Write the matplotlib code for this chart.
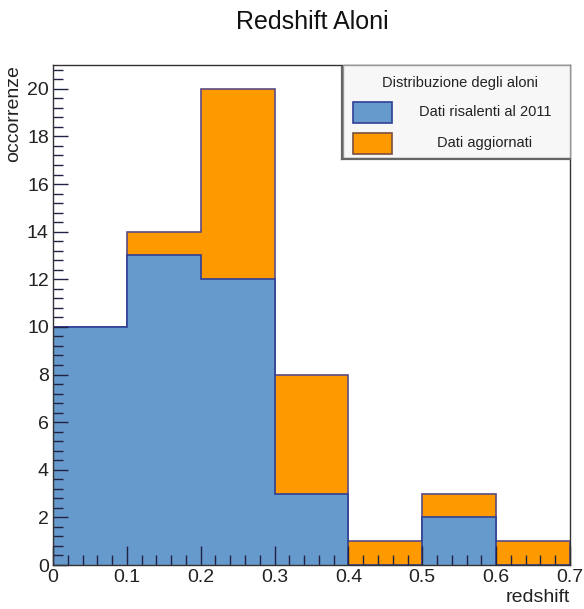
import numpy as np
import matplotlib.pyplot as plt
import matplotlib.ticker as ticker
from matplotlib.patches import Rectangle

plt.rcParams['font.family'] = ['Liberation Sans', 'DejaVu Sans']

edges = [0.0, 0.1, 0.2, 0.3, 0.4, 0.5, 0.6, 0.7]
dati_2011 = [10, 13, 12, 3, 0, 2, 0]
dati_aggiornati = [0, 1, 8, 5, 1, 1, 1]
legend_labels = ['Dati risalenti al 2011', 'Dati aggiornati']

BLUE = '#6699cc'
ORANGE = '#ff9900'
W, H = 584, 609


def px(x, y):
    # pixel position (from top-left) -> figure fraction
    return x / W, 1 - y / H


def main():
    fig = plt.figure(figsize=(W / 100, H / 100), dpi=100)
    l, b = px(53, 565)
    r, t = px(570, 65)
    ax = fig.add_axes([l, b, r - l, t - b])

    total = np.array(dati_2011) + np.array(dati_aggiornati)
    ax.stairs(total, edges, fill=True, facecolor=ORANGE, edgecolor='#5a4c86', linewidth=1.2)
    ax.stairs(dati_2011, edges, fill=True, facecolor=BLUE, edgecolor='#2f3f96', linewidth=1.2)

    ax.set_xlim(0, 0.7)
    ax.set_ylim(0, 21)
    ax.xaxis.set_major_locator(ticker.MultipleLocator(0.1))
    ax.xaxis.set_minor_locator(ticker.MultipleLocator(0.02))
    ax.yaxis.set_major_locator(ticker.MultipleLocator(2))
    ax.yaxis.set_minor_locator(ticker.MultipleLocator(0.4))
    ax.xaxis.set_major_formatter(ticker.FuncFormatter(lambda v, _: f'{v:g}'))
    ax.tick_params(which='both', direction='in', color='#222244', labelsize=14, pad=3,
                   labelcolor='#222222')
    ax.tick_params(which='major', length=11, width=1)
    ax.tick_params(which='minor', length=7, width=1)
    ax.tick_params(axis='x', which='major', length=14)
    ax.tick_params(axis='x', which='minor', length=7)
    for s in ax.spines.values():
        s.set_color('#333333')
        s.set_linewidth(1)
        s.set_zorder(5)

    fig.text(*px(312, 22), 'Redshift Aloni', fontsize=18, ha='center', va='center', color='#111111')
    fig.text(*px(570, 598), 'redshift', fontsize=14, ha='right', va='center', color='#222222')
    fig.text(*px(14, 65), 'occorrenze', fontsize=14, ha='center', va='top', rotation=90,
             color='#222222')

    # ROOT-style legend box
    lx0, ly0 = px(343, 158)
    lx1, ly1 = px(570, 65)
    fig.add_artist(Rectangle((lx0, ly0), lx1 - lx0, ly1 - ly0, transform=fig.transFigure,
                             facecolor='#f7f7f7', edgecolor='#999999', linewidth=1, zorder=10))
    sx0, sy0 = px(342, 159)
    fig.add_artist(plt.Line2D([sx0, lx1], [sy0, sy0], transform=fig.transFigure,
                              color='#666666', linewidth=1.6, zorder=11))
    fig.add_artist(plt.Line2D([sx0, sx0], [sy0, ly1 - 2 / H], transform=fig.transFigure,
                              color='#666666', linewidth=1.6, zorder=11))
    fig.text(*px(460, 83), 'Distribuzione degli aloni', fontsize=10.5, ha='center', va='center',
             color='#222222', zorder=12)
    boxes = [(BLUE, '#2f3f96', 102, 123), (ORANGE, '#7a5040', 133, 154)]
    for (fc, ec, y0, y1), lab in zip(boxes, legend_labels):
        bx0, by0 = px(353, y1)
        bx1, by1 = px(392, y0)
        fig.add_artist(Rectangle((bx0, by0), bx1 - bx0, by1 - by0, transform=fig.transFigure,
                                 facecolor=fc, edgecolor=ec, linewidth=1.2, zorder=12))
        fig.text(*px(485, (y0 + y1) / 2), lab, fontsize=10.5, ha='center', va='center',
                 color='#222222', zorder=12)

    fig.savefig('out.png', dpi=100)


if __name__ == '__main__':
    main()
